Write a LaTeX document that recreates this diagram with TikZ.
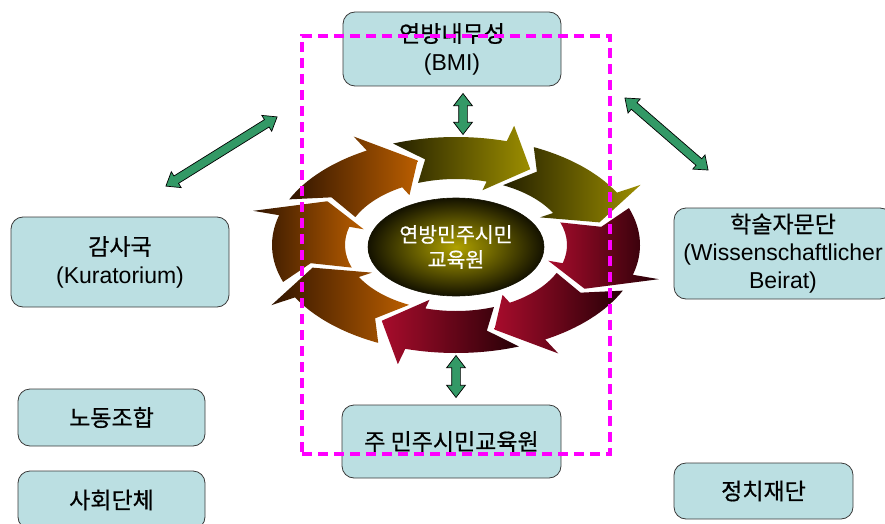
\documentclass[tikz,border=0pt]{standalone}
\usepackage{fontspec}
\setmainfont{Liberation Sans}
\newfontfamily\kr[FakeBold=0.6]{Noto Sans CJK KR}
\usetikzlibrary{shapes.arrows,shapes.geometric}

\definecolor{boxfill}{HTML}{BBDFE2}
\definecolor{boxline}{HTML}{3A3A3A}
\definecolor{linkgreen}{HTML}{339966}
\definecolor{zonepink}{HTML}{FF00FF}
\definecolor{orangedark}{HTML}{301400}
\definecolor{orangelight}{HTML}{BA5E00}
\definecolor{olivedark}{HTML}{242000}
\definecolor{olivelight}{HTML}{9C8E00}
\definecolor{crimsonlight}{HTML}{A80C2C}
\definecolor{crimsondark}{HTML}{260006}
\definecolor{hubcore}{HTML}{B0A200}
\definecolor{hubedge}{HTML}{141200}

% one curved arrow of the cycle ring: #1 tail angle, #2 tip angle, #3 shading
\newcommand{\ringarrow}[3]{%
  \pgfmathsetmacro\headbase{#2+14}%
  \pgfmathsetmacro\notch{#1-8}%
  \shade[#3]
    (#1:184pt and 108pt)
    arc[start angle=#1, end angle=\headbase, x radius=184pt, y radius=108pt]
    -- (\headbase:211pt and 124pt)
    -- (#2:148.5pt and 87.5pt)
    -- (\headbase:96pt and 57pt)
    -- (\headbase:111pt and 66pt)
    arc[start angle=\headbase, end angle=#1, x radius=111pt, y radius=66pt]
    -- (\notch:148.5pt and 87.5pt)
    -- cycle;%
}

\tikzset{
  orgbox/.style={draw=boxline, fill=boxfill, line width=0.8pt,
    rounded corners=12pt, align=center, inner sep=0pt,
    font=\fontsize{23}{28}\selectfont},
  link/.style={double arrow, draw=black, line width=0.7pt, fill=linkgreen,
    inner sep=4pt, double arrow head extend=5pt, double arrow tip angle=75},
  olivearrow/.style={left color=olivedark, right color=olivelight},
  orangearrow/.style={left color=orangedark, right color=orangelight},
  crimsonarrow/.style={left color=crimsonlight, right color=crimsondark},
}

\begin{document}
\begin{tikzpicture}[x=1pt, y=-1pt]
\useasboundingbox (0,0) rectangle (885,524);

% cycle ring around the central institute
\begin{scope}[shift={(456,245)}]
  \ringarrow{-160}{-210}{orangearrow}
  \ringarrow{-115}{-165}{orangearrow}
  \ringarrow{-70}{-120}{crimsonarrow}
  \ringarrow{-25}{-75}{crimsonarrow}
  \ringarrow{20}{-30}{crimsonarrow}
  \ringarrow{65}{15}{olivearrow}
  \ringarrow{110}{60}{olivearrow}
  \ringarrow{155}{105}{orangearrow}
\end{scope}

\node[ellipse, minimum width=176pt, minimum height=98pt, inner sep=0pt,
  draw=hubedge, line width=0.6pt, inner color=hubcore, outer color=hubedge,
  text=white, align=center, font=\kr\fontsize{20.5}{25}\selectfont]
  (hub) at (456,247) {연방민주시민\\교육원};

% surrounding bodies
\node[orgbox, minimum width=218pt, minimum height=74pt] (bmi) at (452,49)
  {{\kr 연방내무성}\\(BMI)};
\node[orgbox, minimum width=218pt, minimum height=90pt] (kura) at (120,262)
  {{\kr 감사국}\\(Kuratorium)};
\node[orgbox, minimum width=187pt, minimum height=57pt] (union) at (111.5,417.5)
  {\kr 노동조합};
\node[orgbox, minimum width=187pt, minimum height=58pt] (social) at (111.5,500)
  {\kr 사회단체};
\node[orgbox, minimum width=218pt, minimum height=91pt] (wiss) at (783,253.5)
  {{\kr 학술자문단}\\(Wissenschaftlicher\\Beirat)};
\node[orgbox, minimum width=179pt, minimum height=56pt] (party) at (763.5,491)
  {\kr 정치재단};
\node[orgbox, minimum width=219pt, minimum height=73pt] (state) at (451.5,441.5)
  {\kr 주 민주시민교육원};

% two-way links
\node[link, minimum height=41pt, rotate=90] (lbmi) at (463,114) {};
\node[link, minimum height=42pt, rotate=90] (lstate) at (456,376.5) {};
\node[link, minimum height=131pt, rotate=31.9] (lkura) at (221.5,151.5) {};
\node[link, minimum height=110pt, rotate=-40.9] (lwiss) at (666.5,134) {};

% federal scope frame
\node[draw=zonepink, line width=3.5pt, dash pattern=on 10pt off 6pt,
  minimum width=308pt, minimum height=418pt, inner sep=0pt] (zone) at (456,245) {};
\end{tikzpicture}
\end{document}
